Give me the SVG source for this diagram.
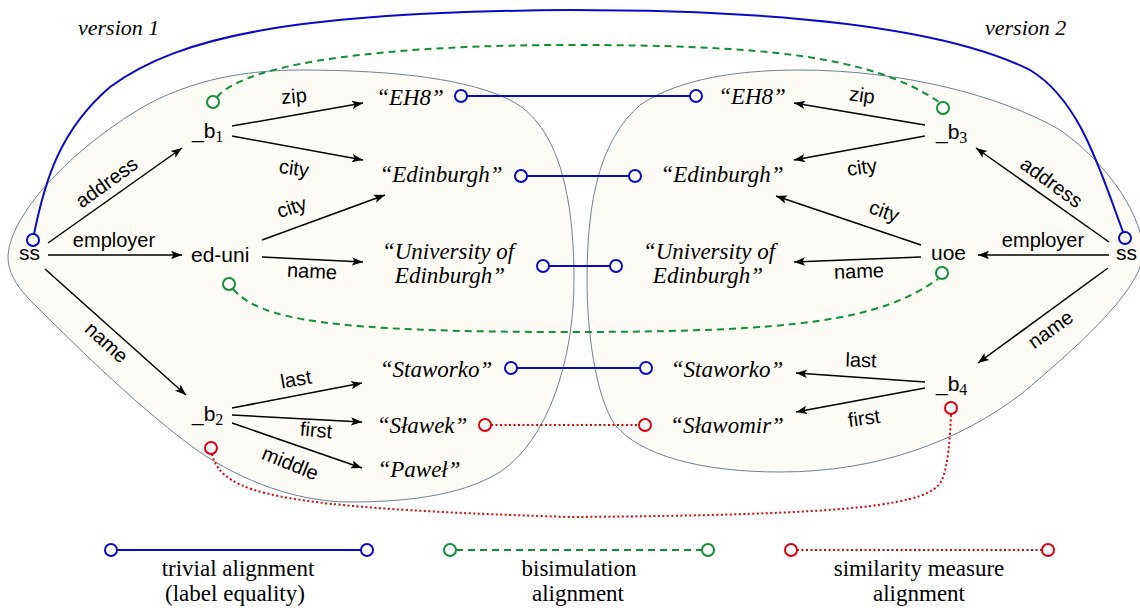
<svg xmlns="http://www.w3.org/2000/svg" width="1140" height="610" viewBox="0 0 1140 610">
<style>
.blob{fill:#fcfbf5;stroke:#6d8294;stroke-width:1}
.sans{font-family:"Liberation Sans",Arial,sans-serif;font-size:21px;fill:#000}
.lit{font-family:"Liberation Serif","Times New Roman",serif;font-style:italic;font-size:23px;fill:#000;text-anchor:middle}
.sub{font-family:"Liberation Serif","Times New Roman",serif;font-size:16px}
.lbl{font-family:"Liberation Sans",Arial,sans-serif;font-size:20px;fill:#000;text-anchor:middle}
.leg{font-family:"Liberation Serif","Times New Roman",serif;font-size:23px;fill:#000;text-anchor:middle}
.ver{font-family:"Liberation Serif","Times New Roman",serif;font-style:italic;font-size:22px;fill:#000}
.edge{stroke:#000;stroke-width:1.5;fill:none;marker-end:url(#arr)}
.triv{stroke:#0a0ac8;stroke-width:2;fill:none}
.bisim{stroke:#119035;stroke-width:2;fill:none;stroke-dasharray:7 5}
.sim{stroke:#e0000e;stroke-width:2;fill:none;stroke-dasharray:2 2.5}
.ct{fill:#fff;stroke:#0a0ac8;stroke-width:2}
.cb{fill:#fff;stroke:#119035;stroke-width:2}
.cs{fill:#fff;stroke:#e0000e;stroke-width:2}
</style>
<defs>
<marker id="arr" viewBox="0 0 12 10" refX="11" refY="5" markerWidth="12" markerHeight="10" markerUnits="userSpaceOnUse" orient="auto">
<path d="M0,0.8 L11,5 L0,9.2 L2.5,5 z" fill="#000"/>
</marker>
</defs>

<g id="blobs">
<path id="blob-v1" class="blob" d="M 8,258 C 8,220 60,160 130,115 C 180,82 240,70 300,70 C 400,70 470,80 510,100 C 560,125 574,200 574,280 C 574,360 548,440 500,472 C 460,497 400,502 350,502 C 290,502 230,475 190,445 C 130,400 70,340 30,300 C 15,285 8,270 8,258 Z"/>
<path id="blob-v2" class="blob" d="M 800,70 C 900,70 1000,95 1060,130 C 1110,165 1145,220 1143,255 C 1140,290 1080,345 1020,395 C 960,440 880,472 780,472 C 700,472 640,455 615,425 C 595,395 587,330 587,280 C 587,200 600,140 640,105 C 680,78 740,70 800,70 Z"/>
</g>

<text class="ver" x="78" y="35">version 1</text>
<text class="ver" x="985" y="35">version 2</text>

<g id="edges">
<line class="edge" x1="48" y1="243" x2="182" y2="148"/>
<line class="edge" x1="48" y1="255" x2="182" y2="255"/>
<line class="edge" x1="45" y1="269" x2="186" y2="395"/>
<line class="edge" x1="232" y1="126" x2="363" y2="103"/>
<line class="edge" x1="232" y1="136" x2="363" y2="160"/>
<line class="edge" x1="262" y1="240" x2="385" y2="195"/>
<line class="edge" x1="262" y1="257" x2="363" y2="262"/>
<line class="edge" x1="232" y1="408" x2="362" y2="383"/>
<line class="edge" x1="232" y1="415" x2="362" y2="422"/>
<line class="edge" x1="232" y1="423" x2="362" y2="468"/>
<line class="edge" x1="1109" y1="242" x2="976" y2="148"/>
<line class="edge" x1="1109" y1="255" x2="978" y2="255"/>
<line class="edge" x1="1108" y1="268" x2="978" y2="363"/>
<line class="edge" x1="925" y1="125" x2="794" y2="103"/>
<line class="edge" x1="925" y1="136" x2="794" y2="160"/>
<line class="edge" x1="921" y1="245" x2="776" y2="196"/>
<line class="edge" x1="921" y1="257" x2="794" y2="262"/>
<line class="edge" x1="925" y1="382" x2="796" y2="373"/>
<line class="edge" x1="925" y1="388" x2="796" y2="412"/>
<text class="lbl" transform="translate(107,183) rotate(-36)" y="6">address</text>
<text class="lbl" x="114" y="247">employer</text>
<text class="lbl" transform="translate(106,343) rotate(42)" y="6">name</text>
<text class="lbl" transform="translate(294,97) rotate(-5)" y="6">zip</text>
<text class="lbl" transform="translate(294,169) rotate(8)" y="6">city</text>
<text class="lbl" transform="translate(292,208) rotate(-18)" y="6">city</text>
<text class="lbl" transform="translate(312,272) rotate(3)" y="6">name</text>
<text class="lbl" transform="translate(296,380) rotate(-10)" y="6">last</text>
<text class="lbl" transform="translate(316,431) rotate(5)" y="6">first</text>
<text class="lbl" transform="translate(290,464) rotate(22)" y="6">middle</text>
<text class="lbl" transform="translate(1051,183) rotate(36)" y="6">address</text>
<text class="lbl" x="1043" y="247">employer</text>
<text class="lbl" transform="translate(1051,330) rotate(-36)" y="6">name</text>
<text class="lbl" transform="translate(862,96) rotate(8)" y="6">zip</text>
<text class="lbl" transform="translate(862,168) rotate(-8)" y="6">city</text>
<text class="lbl" transform="translate(884,212) rotate(20)" y="6">city</text>
<text class="lbl" transform="translate(859,272) rotate(-2)" y="6">name</text>
<text class="lbl" transform="translate(861,361) rotate(2)" y="6">last</text>
<text class="lbl" transform="translate(864,419) rotate(-8)" y="6">first</text>
</g>

<g id="alignments">
<path class="triv" d="M 34,234 C 45,180 60,130 110,87 C 180,35 300,12 570,10 C 800,10 950,30 1030,70 C 1080,100 1100,170 1123,232"/>
<line class="triv" x1="467" y1="96" x2="690" y2="96"/>
<line class="triv" x1="527" y1="176" x2="629" y2="176"/>
<line class="triv" x1="549" y1="266" x2="610" y2="266"/>
<line class="triv" x1="517" y1="368" x2="640" y2="368"/>
<path class="bisim" d="M 217,97 C 250,60 400,45 570,45 C 760,45 870,55 939,102"/>
<path class="bisim" d="M 233,289 C 260,320 330,332 570,332 C 800,332 880,320 938,279"/>
<line class="sim" x1="491" y1="425" x2="639" y2="425"/>
<path class="sim" d="M 212,454 C 222,495 280,508 570,517 C 860,515 930,505 942,480 C 948,465 950,440 951,414"/>
<circle class="ct" cx="33" cy="240" r="6"/>
<circle class="ct" cx="1125" cy="238" r="6"/>
<circle class="ct" cx="461" cy="96" r="6"/>
<circle class="ct" cx="696" cy="96" r="6"/>
<circle class="ct" cx="521" cy="176" r="6"/>
<circle class="ct" cx="635" cy="176" r="6"/>
<circle class="ct" cx="543" cy="266" r="6"/>
<circle class="ct" cx="616" cy="266" r="6"/>
<circle class="ct" cx="511" cy="368" r="6"/>
<circle class="ct" cx="646" cy="368" r="6"/>
<circle class="cb" cx="213" cy="102" r="6"/>
<circle class="cb" cx="943" cy="108" r="6"/>
<circle class="cb" cx="229" cy="284" r="6"/>
<circle class="cb" cx="942" cy="273" r="6"/>
<circle class="cs" cx="485" cy="425" r="6"/>
<circle class="cs" cx="645" cy="425" r="6"/>
<circle class="cs" cx="211" cy="448" r="6"/>
<circle class="cs" cx="951" cy="408" r="6"/>
</g>

<g id="n-ss1"><text class="sans" x="19" y="260">ss</text></g>
<g id="n-b1"><text class="sans" x="192" y="138">_b<tspan class="sub" dy="4">1</tspan></text></g>
<g id="n-eduni"><text class="sans" x="191" y="262">ed-uni</text></g>
<g id="n-b2"><text class="sans" x="192" y="421">_b<tspan class="sub" dy="4">2</tspan></text></g>
<g id="n-eh8-1"><text class="lit" x="410" y="105">“EH8”</text></g>
<g id="n-edi-1"><text class="lit" x="441" y="182">“Edinburgh”</text></g>
<g id="n-uni-1"><text class="lit" x="448" y="259">“University of</text><text class="lit" x="450" y="283">Edinburgh”</text></g>
<g id="n-stw-1"><text class="lit" x="436" y="377">“Staworko”</text></g>
<g id="n-slawek"><text class="lit" x="422" y="433">“Sławek”</text></g>
<g id="n-pawel"><text class="lit" x="419" y="477">“Paweł”</text></g>

<g id="n-ss2"><text class="sans" x="1116" y="260">ss</text></g>
<g id="n-b3"><text class="sans" x="936" y="139">_b<tspan class="sub" dy="4">3</tspan></text></g>
<g id="n-uoe"><text class="sans" x="931" y="260">uoe</text></g>
<g id="n-b4"><text class="sans" x="936" y="391">_b<tspan class="sub" dy="4">4</tspan></text></g>
<g id="n-eh8-2"><text class="lit" x="752" y="104">“EH8”</text></g>
<g id="n-edi-2"><text class="lit" x="722" y="182">“Edinburgh”</text></g>
<g id="n-uni-2"><text class="lit" x="709" y="259">“University of</text><text class="lit" x="708" y="283">Edinburgh”</text></g>
<g id="n-stw-2"><text class="lit" x="727" y="377">“Staworko”</text></g>
<g id="n-slawomir"><text class="lit" x="727" y="433">“Sławomir”</text></g>

<g id="legend">
<line class="triv" x1="117" y1="550" x2="361" y2="550"/>
<circle class="ct" cx="111" cy="550" r="6"/>
<circle class="ct" cx="367" cy="550" r="6"/>
<text class="leg" x="238" y="576">trivial alignment</text>
<text class="leg" x="235" y="601">(label equality)</text>
<line class="bisim" x1="456" y1="550" x2="702" y2="550"/>
<circle class="cb" cx="450" cy="550" r="6"/>
<circle class="cb" cx="708" cy="550" r="6"/>
<text class="leg" x="579" y="576">bisimulation</text>
<text class="leg" x="578" y="601">alignment</text>
<line class="sim" x1="797" y1="550" x2="1042" y2="550"/>
<circle class="cs" cx="791" cy="550" r="6"/>
<circle class="cs" cx="1048" cy="550" r="6"/>
<text class="leg" x="919" y="576">similarity measure</text>
<text class="leg" x="919" y="601">alignment</text>
</g>
</svg>
